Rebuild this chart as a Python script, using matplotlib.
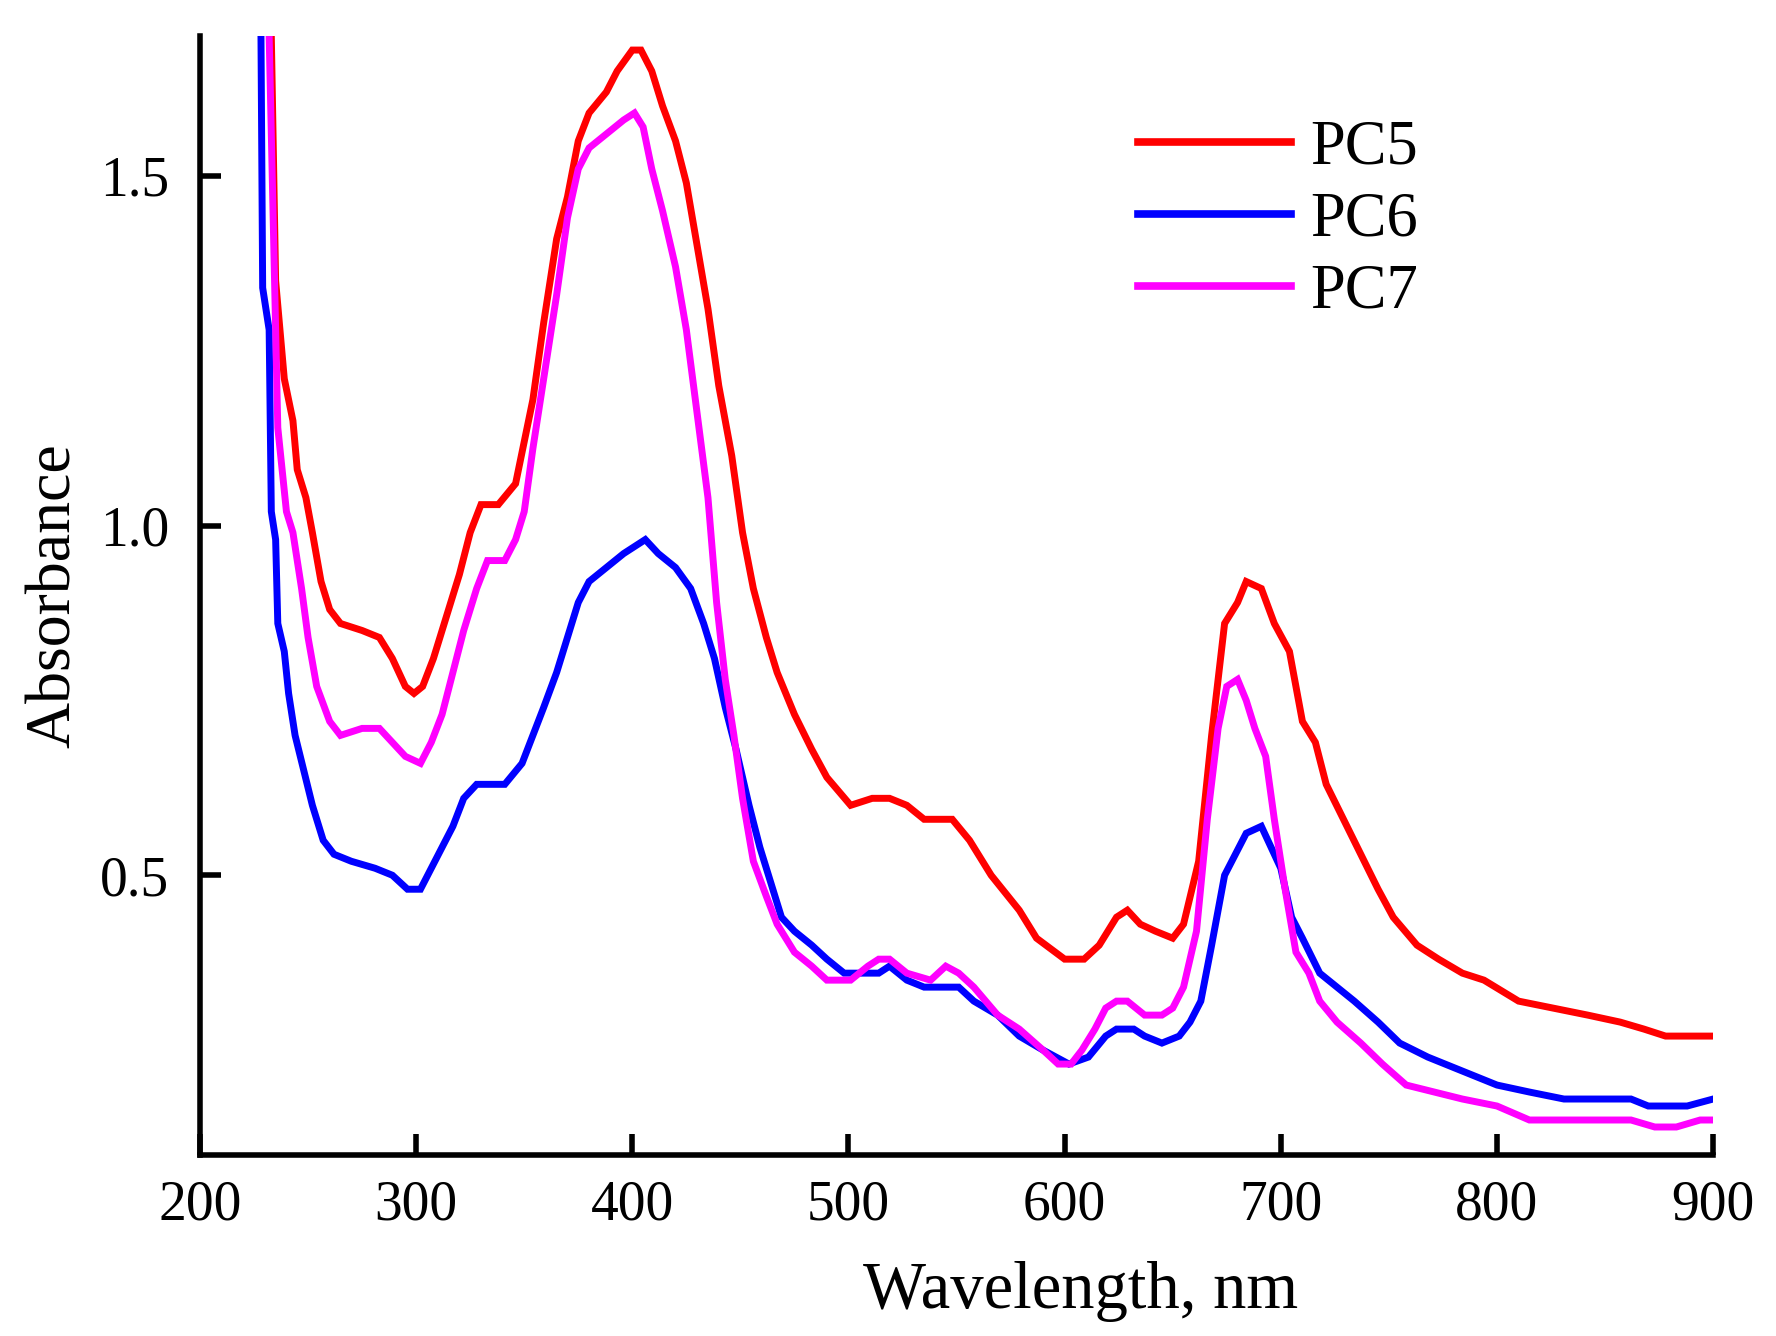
import numpy as np
import matplotlib
matplotlib.use("Agg")
import matplotlib.pyplot as plt

# 波長と吸光度
pc5_wl = [229, 233, 235, 239, 243, 245, 249, 252, 256, 260, 265, 275, 283, 289, 295, 299,
          303, 308, 314, 320, 325, 330, 338, 346, 350, 354, 359, 365, 370, 375, 380, 388,
          393, 400, 404, 409, 414, 420, 425, 430, 435, 440, 446, 451, 456, 462, 467, 475,
          483, 490, 501, 511, 519, 527, 535, 548, 556, 566, 579, 587, 600, 609, 616, 624,
          629, 635, 642, 650, 655, 662, 668, 674, 680, 684, 691, 697, 704, 710, 716, 721,
          729, 737, 745, 752, 763, 773, 784, 794, 810, 826, 842, 857, 868, 878, 900]
pc5_abs = [1.80, 1.70, 1.35, 1.21, 1.15, 1.08, 1.04, 0.99, 0.92, 0.88, 0.86, 0.85, 0.84, 0.81, 0.77, 0.76,
           0.77, 0.81, 0.87, 0.93, 0.99, 1.03, 1.03, 1.06, 1.12, 1.18, 1.29, 1.41, 1.47, 1.55, 1.59, 1.62,
           1.65, 1.68, 1.68, 1.65, 1.60, 1.55, 1.49, 1.40, 1.31, 1.20, 1.10, 0.99, 0.91, 0.84, 0.79, 0.73,
           0.68, 0.64, 0.60, 0.61, 0.61, 0.60, 0.58, 0.58, 0.55, 0.50, 0.45, 0.41, 0.38, 0.38, 0.40, 0.44,
           0.45, 0.43, 0.42, 0.41, 0.43, 0.52, 0.70, 0.86, 0.89, 0.92, 0.91, 0.86, 0.82, 0.72, 0.69, 0.63,
           0.58, 0.53, 0.48, 0.44, 0.40, 0.38, 0.36, 0.35, 0.32, 0.31, 0.30, 0.29, 0.28, 0.27, 0.27]

pc6_wl = [228, 229, 232, 233, 235, 236, 239, 241, 244, 248, 252, 257, 262, 270, 281, 289,
          296, 302, 307, 312, 317, 322, 328, 341, 349, 354, 359, 365, 370, 375, 380, 388,
          396, 401, 406, 412, 420, 427, 433, 438, 443, 448, 454, 459, 464, 469, 475, 483,
          490, 498, 506, 514, 519, 527, 535, 551, 558, 569, 579, 590, 602, 611, 619, 624,
          632, 637, 645, 653, 658, 663, 668, 674, 679, 684, 691, 694, 700, 705, 710, 718,
          726, 734, 745, 755, 768, 784, 800, 815, 831, 862, 870, 888, 900]
pc6_abs = [1.80, 1.34, 1.28, 1.02, 0.98, 0.86, 0.82, 0.76, 0.70, 0.65, 0.60, 0.55, 0.53, 0.52, 0.51, 0.50,
           0.48, 0.48, 0.51, 0.54, 0.57, 0.61, 0.63, 0.63, 0.66, 0.70, 0.74, 0.79, 0.84, 0.89, 0.92, 0.94,
           0.96, 0.97, 0.98, 0.96, 0.94, 0.91, 0.86, 0.81, 0.74, 0.68, 0.60, 0.54, 0.49, 0.44, 0.42, 0.40,
           0.38, 0.36, 0.36, 0.36, 0.37, 0.35, 0.34, 0.34, 0.32, 0.30, 0.27, 0.25, 0.23, 0.24, 0.27, 0.28,
           0.28, 0.27, 0.26, 0.27, 0.29, 0.32, 0.40, 0.50, 0.53, 0.56, 0.57, 0.55, 0.51, 0.44, 0.41, 0.36,
           0.34, 0.32, 0.29, 0.26, 0.24, 0.22, 0.20, 0.19, 0.18, 0.18, 0.17, 0.17, 0.18]

pc7_wl = [231, 232, 236, 240, 243, 247, 250, 254, 260, 265, 275, 283, 289, 295, 302, 307,
          312, 317, 322, 328, 333, 341, 346, 350, 354, 359, 365, 370, 375, 380, 388, 396,
          401, 405, 409, 414, 420, 425, 430, 435, 439, 443, 447, 451, 456, 462, 467, 475,
          483, 490, 501, 509, 514, 519, 527, 538, 545, 551, 558, 569, 579, 590, 597, 603,
          608, 614, 619, 624, 629, 637, 645, 650, 655, 661, 666, 671, 675, 680, 684, 688,
          693, 697, 702, 707, 713, 718, 726, 737, 747, 758, 771, 784, 800, 815, 862, 873,
          883, 894, 900]
pc7_abs = [1.80, 1.70, 1.14, 1.02, 0.99, 0.91, 0.84, 0.77, 0.72, 0.70, 0.71, 0.71, 0.69, 0.67, 0.66, 0.69,
           0.73, 0.79, 0.85, 0.91, 0.95, 0.95, 0.98, 1.02, 1.11, 1.21, 1.33, 1.44, 1.51, 1.54, 1.56, 1.58,
           1.59, 1.57, 1.51, 1.45, 1.37, 1.28, 1.16, 1.04, 0.89, 0.78, 0.70, 0.61, 0.52, 0.47, 0.43, 0.39,
           0.37, 0.35, 0.35, 0.37, 0.38, 0.38, 0.36, 0.35, 0.37, 0.36, 0.34, 0.30, 0.28, 0.25, 0.23, 0.23,
           0.25, 0.28, 0.31, 0.32, 0.32, 0.30, 0.30, 0.31, 0.34, 0.42, 0.58, 0.71, 0.77, 0.78, 0.75, 0.71,
           0.67, 0.58, 0.48, 0.39, 0.36, 0.32, 0.29, 0.26, 0.23, 0.20, 0.19, 0.18, 0.17, 0.15, 0.15, 0.14,
           0.14, 0.15, 0.15]

labels = ['PC5', 'PC6', 'PC7']
colors = ['#ff0000', '#0000ff', '#ff00ff']

plt.rcParams['font.family'] = ['Liberation Serif', 'DejaVu Serif']

fig = plt.figure(figsize=(17.76, 13.36), dpi=100)
ax = fig.add_axes([0.1126, 0.1355, 0.852, 0.8375])

for wl, ab, lab, c in zip([pc5_wl, pc6_wl, pc7_wl], [pc5_abs, pc6_abs, pc7_abs], labels, colors):
    ax.plot(wl, ab, color=c, lw=5, label=lab, solid_joinstyle='miter')

ax.set_xlim(200, 900)
ax.set_ylim(0.1, 1.7)
ax.set_xticks([200, 300, 400, 500, 600, 700, 800, 900])
ax.set_yticks([0.5, 1.0, 1.5])
ax.set_yticklabels(['0.5', '1.0', '1.5'])

for s in ['top', 'right']:
    ax.spines[s].set_visible(False)
for s in ['left', 'bottom']:
    ax.spines[s].set_linewidth(4)

ax.tick_params(axis='both', direction='in', length=15, width=4, labelsize=40)
ax.tick_params(axis='x', pad=18)
ax.tick_params(axis='y', pad=22)

ax.set_xlabel('Wavelength, nm', fontsize=48)
ax.xaxis.set_label_coords(0.582, -0.095)
ax.set_ylabel('Absorbance', fontsize=46, labelpad=12)

leg = ax.legend(loc='upper left', bbox_to_anchor=(0.62, 0.925), frameon=False,
                fontsize=45, handlelength=2.45, handletextpad=0.3, labelspacing=0.22,
                borderpad=0, borderaxespad=0)
for line in leg.get_lines():
    line.set_linewidth(5.5)

fig.savefig('out.png', dpi=100)
